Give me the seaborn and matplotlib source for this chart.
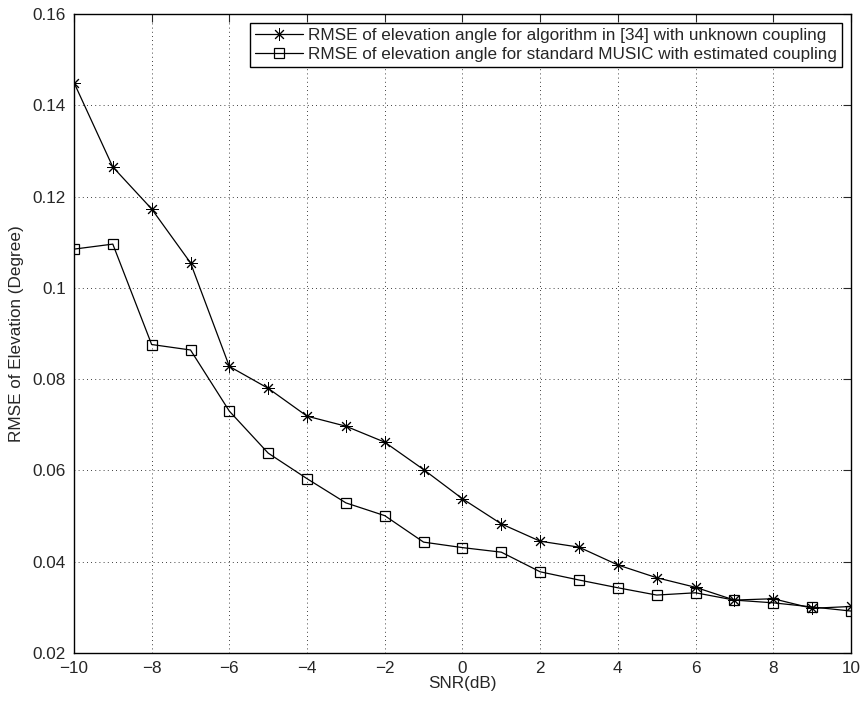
import numpy as np
import pandas as pd
import matplotlib
matplotlib.use("Agg")
import matplotlib.pyplot as plt
import seaborn as sns

snr = list(range(-10, 11))
rmse_alg34 = [0.145, 0.1265, 0.1173, 0.1055, 0.0828, 0.0780, 0.0719, 0.0697, 0.0662, 0.0602,
              0.0538, 0.0483, 0.0445, 0.0432, 0.0393, 0.0365, 0.0344, 0.0316, 0.0319, 0.0298, 0.0302]
rmse_music = [0.1085, 0.1096, 0.0876, 0.0864, 0.0730, 0.0638, 0.0582, 0.0529, 0.0501, 0.0443,
              0.0431, 0.0421, 0.0378, 0.0360, 0.0343, 0.0327, 0.0332, 0.0316, 0.0310, 0.0301, 0.0292]
labels = ["RMSE of elevation angle for algorithm in [34] with unknown coupling",
          "RMSE of elevation angle for standard MUSIC with estimated coupling"]

df = pd.DataFrame({
    "SNR": snr * 2,
    "RMSE": rmse_alg34 + rmse_music,
    "serie": [labels[0]] * len(snr) + [labels[1]] * len(snr),
})

sns.set_style("white")
plt.rcParams["font.family"] = ["Liberation Sans", "DejaVu Sans"]
fs = 12.3

fig = plt.figure(figsize=(8.63, 7.04), dpi=100)
ax = fig.add_axes([0.0857, 0.0724, 0.9003, 0.9076])

sns.lineplot(data=df, x="SNR", y="RMSE", hue="serie", style="serie",
             palette=["black", "black"], markers=["*", "s"], dashes=False,
             markersize=7, markerfacecolor="none", markeredgecolor="black",
             markeredgewidth=0.9, linewidth=0.9, ax=ax)

# asterisco tipo MATLAB
for line in ax.get_lines():
    if line.get_marker() == "*":
        line.set_marker((8, 2, 0))
        line.set_markersize(9)
        line.set_markeredgewidth(0.7)

ax.set_xlim(-10, 10)
ax.set_ylim(0.02, 0.16)
ax.set_xticks(range(-10, 11, 2))
ax.set_yticks(np.arange(0.02, 0.161, 0.02))
ax.set_yticklabels(["0.02", "0.04", "0.06", "0.08", "0.1", "0.12", "0.14", "0.16"])
ax.set_xlabel("SNR(dB)", fontsize=fs, labelpad=0)
ax.set_ylabel("RMSE of Elevation (Degree)", fontsize=fs, labelpad=6)
ax.grid(True, linestyle=(0, (1, 4)), color="black", linewidth=0.6)
ax.tick_params(direction="in", length=6, top=True, right=True, labelsize=fs, pad=6)
for sp in ax.spines.values():
    sp.set_color("black")
    sp.set_linewidth(1.0)

handles, lbls = ax.get_legend_handles_labels()
leg = ax.legend(handles, lbls, loc="upper right", frameon=True, fancybox=False,
                edgecolor="black", framealpha=1, borderaxespad=0.5,
                handlelength=2.8, handletextpad=0.3, fontsize=fs, borderpad=0.3, labelspacing=0.25)
leg.get_frame().set_linewidth(1.0)

fig.savefig("out.png", dpi=100)
